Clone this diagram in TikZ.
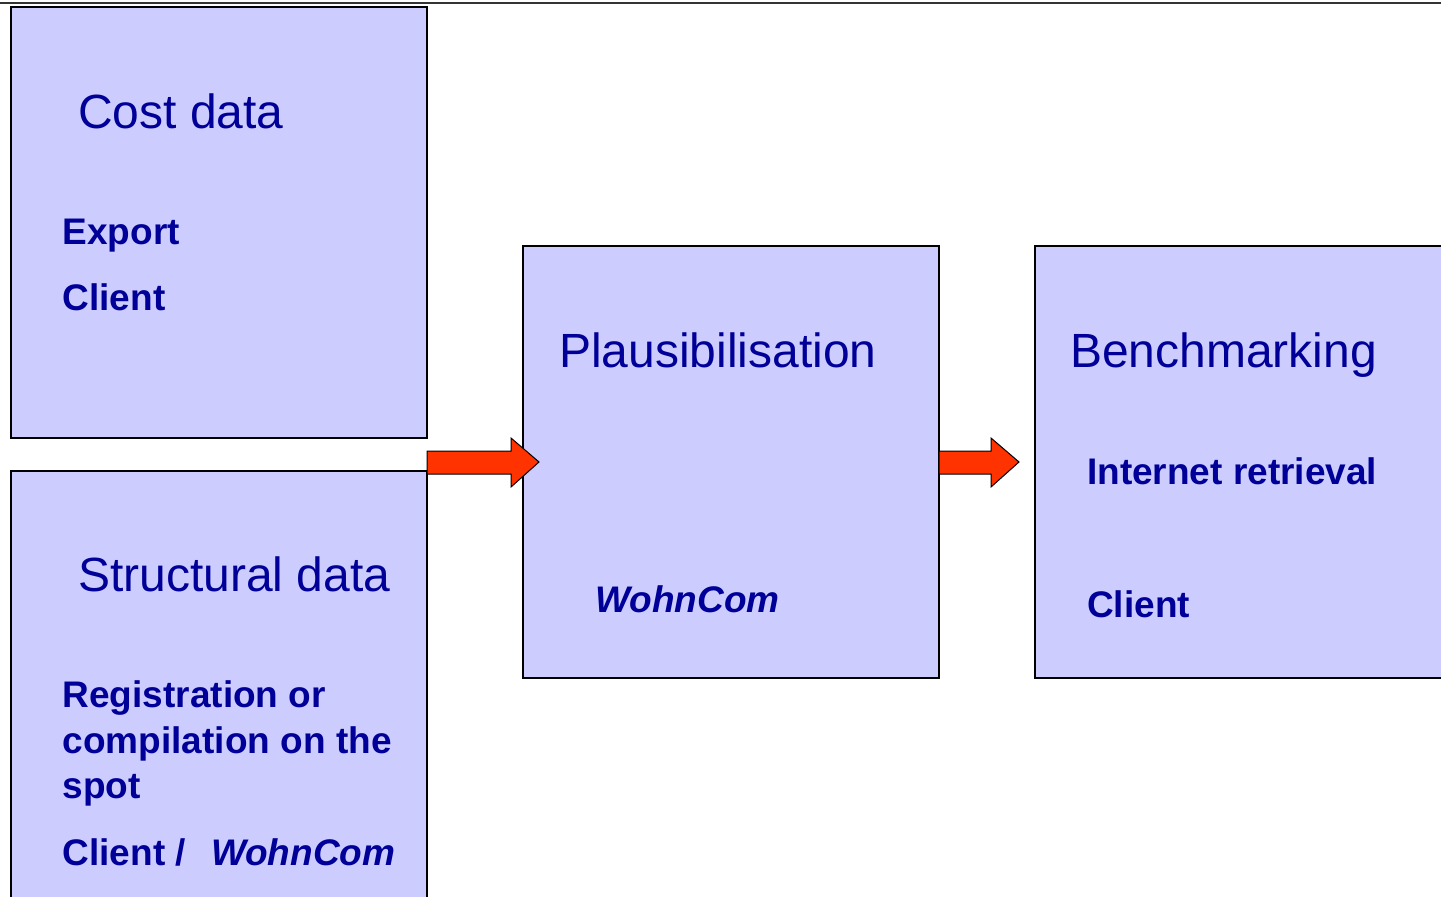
\documentclass[tikz,border=0pt]{standalone}
\usepackage{fontspec}
\setmainfont{Liberation Sans}
\begin{document}
\begin{tikzpicture}[x=1pt,y=-1pt,
  box/.style={draw=black,line width=1.6pt,fill=boxfill},
  title/.style={anchor=base west,inner sep=0pt,text=textblue,font=\fontsize{48}{57}\selectfont},
  sub/.style={anchor=base west,inner sep=0pt,text=textblue,font=\fontsize{37}{45}\selectfont\bfseries},
  arrowshape/.style={draw=black,line width=1pt,fill=arrowred,line join=miter}]
\definecolor{boxfill}{HTML}{CCCCFF}
\definecolor{textblue}{HTML}{000099}
\definecolor{arrowred}{HTML}{FF3300}
\useasboundingbox (0,0) rectangle (1441,897);
\draw[line width=1.6pt,color=black!80] (0,3) -- (1441,3);
% boxes
\draw[box] (11,7) rectangle (427,438);
\draw[box] (11,471) rectangle (427,910);
\draw[box] (523,246) rectangle (939,678);
\draw[box] (1035,246) rectangle (1460,678);
% arrows
\draw[arrowshape] (427,451) -- (511,451) -- (511,438) -- (539,462) -- (511,487) -- (511,474) -- (427,474) -- cycle;
\draw[arrowshape] (939,451) -- (991,451) -- (991,438) -- (1019,462) -- (991,487) -- (991,474) -- (939,474) -- cycle;
% texts
\node[title] (t1) at (78,128) {Cost data};
\node[sub] (s1) at (62.5,244) {Export};
\node[sub] (s2) at (62.5,310) {Client};
\node[title] (t2) at (78,591) {Structural data};
\node[sub] (s3) at (62.5,707) {Registration or};
\node[sub] (s4) at (62.5,753) {compilation on the};
\node[sub] (s5) at (62.5,798) {spot};
\node[sub] (s6) at (62.5,865) {Client /\hspace{0.4em} \itshape WohnCom};
\node[title] (t3) at (559,367) {Plausibilisation};
\node[sub] (s7) at (595,612) {\itshape WohnCom};
\node[title] (t4) at (1070,367) {Benchmarking};
\node[sub] (s8) at (1087,484) {Internet retrieval};
\node[sub] (s9) at (1087,617) {Client};
\end{tikzpicture}
\end{document}
